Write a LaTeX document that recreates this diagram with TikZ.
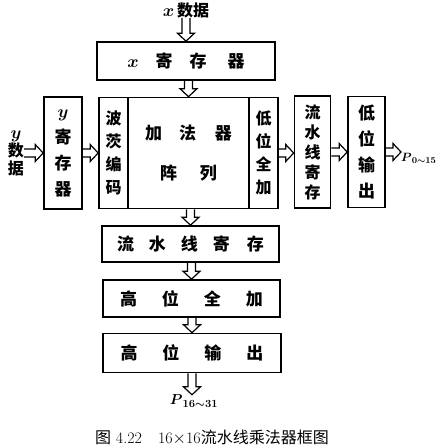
\documentclass[tikz,border=0pt]{standalone}
\usepackage{fontspec}
\usepackage{amsmath}
\newfontfamily\cjk{Noto Sans CJK SC}
\usetikzlibrary{calc}
\begin{document}
\begin{tikzpicture}[x=1pt, y=-1pt,
  blk/.style={draw=black, line width=1.6pt, inner sep=0pt, align=center},
  fat/.style={line width=1.2pt, line join=miter, to path={
    ($(\tikztostart)!4pt!90:(\tikztotarget)$) -- ($($(\tikztotarget)!8pt!(\tikztostart)$)!4pt!90:(\tikztotarget)$)
    -- ($($(\tikztotarget)!8pt!(\tikztostart)$)!8.5pt!90:(\tikztotarget)$) -- (\tikztotarget)
    -- ($($(\tikztotarget)!8pt!(\tikztostart)$)!8.5pt!-90:(\tikztotarget)$)
    -- ($($(\tikztotarget)!8pt!(\tikztostart)$)!4pt!-90:(\tikztotarget)$) -- ($(\tikztostart)!4pt!-90:(\tikztotarget)$)}},
  lbl/.style={inner sep=0pt, align=center}]
\useasboundingbox (0,0) rectangle (437,448);
\node[lbl, font=\cjk\bfseries\fontsize{16}{18}\selectfont] (xin) at (186,10) {$\boldsymbol{x}$\,数据};
\node[blk, minimum width=178pt, minimum height=38pt, font=\cjk\bfseries\fontsize{17}{18}\selectfont] (xreg) at (186,61) {$\boldsymbol{x}$\hspace{17pt}寄\hspace{17pt}存\hspace{21pt}器};
\node[lbl, font=\cjk\bfseries\fontsize{16}{18}\selectfont] (ydata) at (16,153) {$\boldsymbol{y}$\\数\\据};
\node[blk, minimum width=38pt, minimum height=112pt, font=\cjk\bfseries\fontsize{17}{26}\selectfont] (yreg) at (63,153) {$\boldsymbol{y}$\\寄\\存\\器};
\node[blk, minimum width=29pt, minimum height=111pt, font=\cjk\bfseries\fontsize{16}{23}\selectfont] (bocode) at (113.5,153) {波\\茨\\编\\码};
\node[blk, minimum width=121pt, minimum height=111pt, font=\cjk\bfseries\fontsize{17}{40}\selectfont] (adder) at (188.5,153) {加\hspace{17pt}法\hspace{19pt}器\\阵\hspace{23pt}列};
\node[blk, minimum width=29pt, minimum height=111pt, font=\cjk\bfseries\fontsize{16}{23}\selectfont] (lowadd) at (263.5,153) {低\\位\\全\\加};
\node[blk, minimum width=36pt, minimum height=112pt, font=\cjk\bfseries\fontsize{16}{20}\selectfont] (pipev) at (312.5,152) {流\\水\\线\\寄\\存};
\node[blk, minimum width=37pt, minimum height=111pt, font=\cjk\bfseries\fontsize{17}{26}\selectfont] (lowout) at (366.5,152) {低\\位\\输\\出};
\node[lbl, anchor=west, font=\fontsize{13}{15}\selectfont] (pout) at (401,158) {$\boldsymbol{P}_{\boldsymbol{0\sim15}}$};
\node[blk, minimum width=177pt, minimum height=36pt, font=\cjk\bfseries\fontsize{17}{18}\selectfont] (pipeh) at (190.5,244) {流\hspace{15pt}水\hspace{15pt}线\hspace{15pt}寄\hspace{17pt}存};
\node[blk, minimum width=177pt, minimum height=37pt, font=\cjk\bfseries\fontsize{17}{18}\selectfont] (highadd) at (191.5,298.5) {高\hspace{25pt}位\hspace{25pt}全\hspace{25pt}加};
\node[blk, minimum width=178pt, minimum height=39pt, font=\cjk\bfseries\fontsize{17}{18}\selectfont] (highout) at (192,353) {高\hspace{25pt}位\hspace{25pt}输\hspace{25pt}出};
\node[lbl, font=\fontsize{15}{17}\selectfont] (pbot) at (194,401) {$\boldsymbol{P}_{\boldsymbol{16\sim31}}$};
\node[lbl, font=\fontsize{16}{18}\selectfont] (caption) at (212,437) {{\cjk 图}\ 4.22\quad 16$\times$16{\cjk 流水线乘法器框图}};
\draw[fat] (xin.south) to (xreg.north);
\draw[fat] (adder.north |- xreg.south) to (adder.north);
\draw[fat] (ydata.east |- yreg.west) to (yreg.west);
\draw[fat] (yreg.east) to (bocode.west);
\draw[fat] (lowadd.east) to (lowadd.east -| pipev.west);
\draw[fat] (pipev.east) to (pipev.east -| lowout.west);
\draw[fat] (lowout.east) to (lowout.east -| pout.west);
\draw[fat] (pipeh.north |- adder.south) to (pipeh.north);
\draw[fat] (highadd.north |- pipeh.south) to (highadd.north);
\draw[fat] (highout.north |- highadd.south) to (highout.north);
\draw[fat] (highout.south) to (highout.south |- pbot.north);
\end{tikzpicture}
\end{document}
